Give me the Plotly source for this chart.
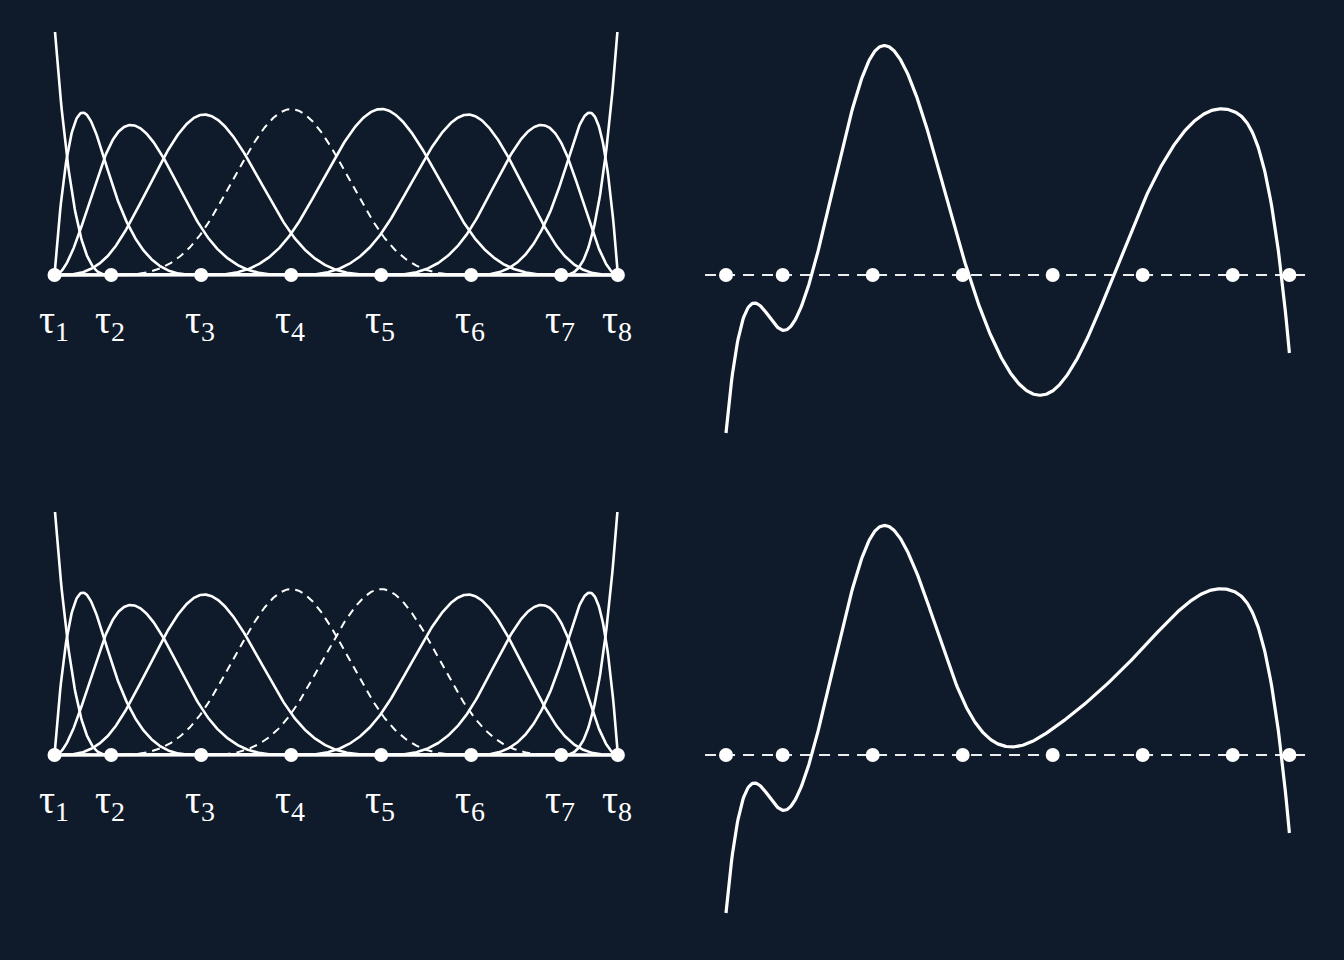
import numpy as np
import plotly.graph_objects as go

# ---- data ----
knots = [0.0, 0.63, 1.63, 2.63, 3.63, 4.63, 5.63, 6.26]          # tau_1 .. tau_8
knot_labels = ["τ<sub>1</sub>", "τ<sub>2</sub>", "τ<sub>3</sub>", "τ<sub>4</sub>",
               "τ<sub>5</sub>", "τ<sub>6</sub>", "τ<sub>7</sub>", "τ<sub>8</sub>"]
coef_top = [-158, 48, -210, 412, -25, -193, 102, 199, 130, -78]      # spline coefficients, upper curve
coef_bottom = [-158, 48, -210, 412, -25, 20, 102, 199, 130, -78]     # spline coefficients, lower curve
dashed_top = [4]          # basis functions drawn dashed, upper panel
dashed_bottom = [4, 5]    # basis functions drawn dashed, lower panel
degree = 3

BG = "#0f1b2a"
WHITE = "#ffffff"
SERIF = "Liberation Serif, Times New Roman, serif"

# clamped knot vector
t = np.array([knots[0]] * degree + knots + [knots[-1]] * degree, dtype=float)
x = np.linspace(knots[0], knots[-1], 700)


def basis(tk, k, xs):
    m = len(tk) - 1
    B = np.zeros((len(xs), m))
    for i in range(m):
        B[:, i] = ((xs >= tk[i]) & (xs < tk[i + 1])).astype(float)
    last = max(i for i in range(m) if tk[i] < tk[i + 1])
    B[xs >= tk[-1], last] = 1.0
    for d in range(1, k + 1):
        Bn = np.zeros((len(xs), m - d))
        for i in range(m - d):
            v = np.zeros(len(xs))
            den1 = tk[i + d] - tk[i]
            if den1 > 0:
                v += (xs - tk[i]) / den1 * B[:, i]
            den2 = tk[i + d + 1] - tk[i + 1]
            if den2 > 0:
                v += (tk[i + d + 1] - xs) / den2 * B[:, i + 1]
            Bn[:, i] = v
        B = Bn
    return B


Bx = basis(t, degree, x)
nb = Bx.shape[1]

fig = go.Figure()


def add_left(xa, ya, dashed):
    for i in range(nb):
        isd = i in dashed
        fig.add_trace(go.Scatter(
            x=x, y=Bx[:, i], mode="lines", xaxis=xa, yaxis=ya,
            line=dict(color=WHITE, width=2.0 if isd else 2.6,
                      dash="8px,6px" if isd else "solid"),
            hoverinfo="skip", showlegend=False))
    fig.add_trace(go.Scatter(
        x=[knots[0], knots[-1]], y=[0, 0], mode="lines", xaxis=xa, yaxis=ya,
        line=dict(color=WHITE, width=2.6), hoverinfo="skip", showlegend=False))
    fig.add_trace(go.Scatter(
        x=knots, y=[0] * len(knots), mode="markers", xaxis=xa, yaxis=ya,
        marker=dict(color=WHITE, size=14), cliponaxis=False,
        hoverinfo="skip", showlegend=False))


def add_right(xa, ya, coef):
    yv = Bx @ np.array(coef, dtype=float)
    fig.add_trace(go.Scatter(
        x=[-0.233, 6.511], y=[0, 0], mode="lines", xaxis=xa, yaxis=ya,
        line=dict(color="rgba(255,255,255,0.92)", width=2, dash="11px,8px"),
        hoverinfo="skip", showlegend=False))
    fig.add_trace(go.Scatter(
        x=x, y=yv, mode="lines", xaxis=xa, yaxis=ya,
        line=dict(color=WHITE, width=3.2), hoverinfo="skip", showlegend=False))
    fig.add_trace(go.Scatter(
        x=knots, y=[0] * len(knots), mode="markers", xaxis=xa, yaxis=ya,
        marker=dict(color=WHITE, size=14), cliponaxis=False,
        hoverinfo="skip", showlegend=False))


add_left("x", "y", dashed_top)
add_right("x2", "y2", coef_top)
add_left("x3", "y3", dashed_bottom)
add_right("x4", "y4", coef_bottom)

W, H = 1344, 960
lx0, lx1, lorig = 20, 650, 54.5
rx0, rx1, rorig = 690, 1330, 726
ppu = 90.0

annotations = []
for xr, label_px in (("x", 322), ("x3", 802)):
    for k, lab in zip(knots, knot_labels):
        annotations.append(dict(
            x=k, y=1 - label_px / H, xref=xr, yref="paper", showarrow=False,
            text=lab, font=dict(family=SERIF, size=40, color=WHITE),
            xanchor="center", yanchor="middle", xshift=-1))

hidden = dict(visible=False, showgrid=False, zeroline=False, fixedrange=True)
fig.update_layout(
    width=W, height=H, margin=dict(l=0, r=0, t=0, b=0),
    paper_bgcolor=BG, plot_bgcolor=BG, showlegend=False,
    annotations=annotations,
    xaxis=dict(domain=[lx0 / W, lx1 / W], range=[(lx0 - lorig) / ppu, (lx1 - lorig) / ppu], anchor="y", **hidden),
    yaxis=dict(domain=[1 - 300 / H, 1 - 32 / H], range=[-0.1004, 0.976], anchor="x", **hidden),
    xaxis2=dict(domain=[rx0 / W, rx1 / W], range=[(rx0 - rorig) / ppu, (rx1 - rorig) / ppu], anchor="y2", **hidden),
    yaxis2=dict(domain=[1 - 450 / H, 1 - 20 / H], range=[-175, 255], anchor="x2", **hidden),
    xaxis3=dict(domain=[lx0 / W, lx1 / W], range=[(lx0 - lorig) / ppu, (lx1 - lorig) / ppu], anchor="y3", **hidden),
    yaxis3=dict(domain=[1 - 780 / H, 1 - 512 / H], range=[-0.1004, 0.976], anchor="x3", **hidden),
    xaxis4=dict(domain=[rx0 / W, rx1 / W], range=[(rx0 - rorig) / ppu, (rx1 - rorig) / ppu], anchor="y4", **hidden),
    yaxis4=dict(domain=[1 - 930 / H, 1 - 500 / H], range=[-175, 255], anchor="x4", **hidden),
)

fig.write_html("out.html")
